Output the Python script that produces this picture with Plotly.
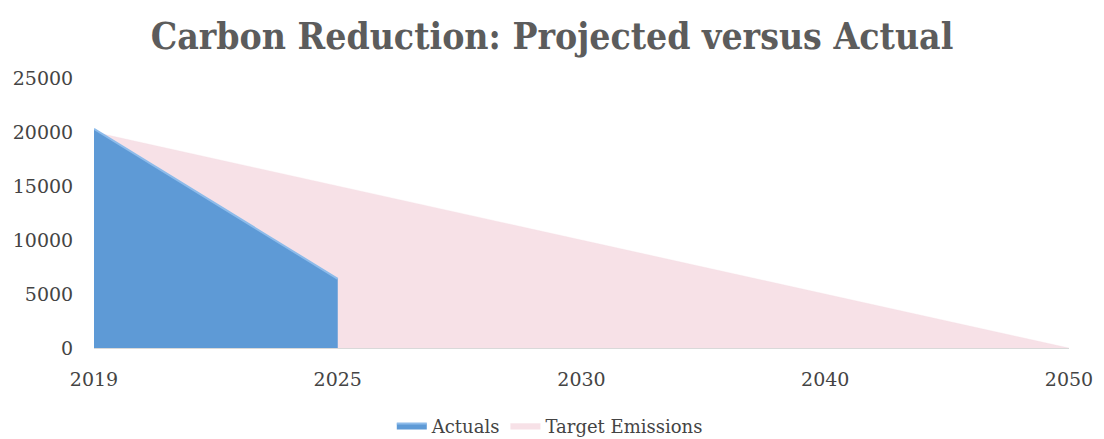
import plotly.graph_objects as go

years = ["2019", "2025", "2030", "2040", "2050"]
actual_years = ["2019", "2025"]
actuals = [20300, 6400]
target_emissions = [20000, 15000, 10000, 5000, 0]
y_ticks = [0, 5000, 10000, 15000, 20000, 25000]

serif = "DejaVu Serif"
text_color = "#444444"

fig = go.Figure()
fig.add_trace(go.Scatter(
    x=years, y=target_emissions, name="Target Emissions",
    mode="lines", fill="tozeroy",
    line=dict(color="rgba(246,222,228,0.6)", width=0.5),
    fillcolor="#f7e1e7", legendrank=2,
))
fig.add_trace(go.Scatter(
    x=actual_years, y=actuals, name="Actuals",
    mode="lines", fill="tozeroy",
    line=dict(color="#8dbbea", width=2),
    fillcolor="#5e9ad6", legendrank=1,
))

fig.update_layout(
    width=1104, height=439,
    paper_bgcolor="white", plot_bgcolor="white",
    margin=dict(l=94, r=35, t=78, b=91, autoexpand=False),
    title=dict(text="<b>Carbon Reduction: Projected versus Actual</b>",
               x=0.5, xanchor="center", y=0.918, yanchor="middle",
               font=dict(family="DejaVu Serif Condensed", size=37, color="#5c5c5c")),
    showlegend=True,
    legend=dict(orientation="h", xref="container", yref="container",
                x=0.498, xanchor="center", y=0.03, yanchor="middle",
                font=dict(family=serif, size=18, color=text_color),
                itemwidth=30, traceorder="normal"),
    xaxis=dict(type="category", range=[0, 4], showgrid=False, automargin=False,
               showline=True, linecolor="#d9d9d9", linewidth=1,
               ticks="outside", ticklen=14, tickcolor="rgba(0,0,0,0)",
               tickfont=dict(family=serif, size=19, color=text_color)),
    yaxis=dict(range=[0, 25000], tickvals=y_ticks, ticktext=[str(v) for v in y_ticks],
               showgrid=False, automargin=False,
               zeroline=False, ticks="outside", ticklen=16,
               tickcolor="rgba(0,0,0,0)",
               tickfont=dict(family=serif, size=19, color=text_color)),
)

fig.write_html("out.html", config={"displayModeBar": False},
               post_script="document.body.style.margin='0';")
